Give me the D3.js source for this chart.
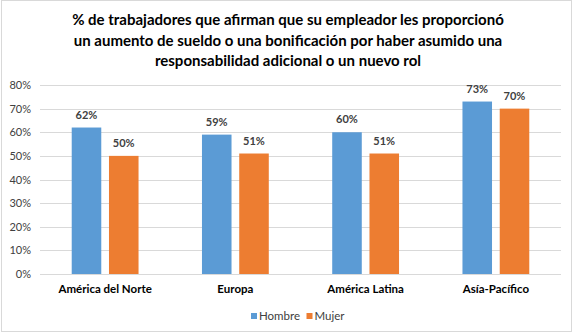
<!DOCTYPE html>
<html>
<head>
<meta charset="utf-8">
<script src="https://cdn.jsdelivr.net/npm/d3@7"></script>
<style>
  html, body { margin: 0; padding: 0; background: #fff; }
  svg { display: block; }
  text { font-family: Lato, "Open Sans", sans-serif; }
</style>
</head>
<body>
<svg id="chart" width="576" height="336"></svg>
<script>
const regions = ["América del Norte", "Europa", "América Latina", "Asía-Pacífico"];
const series = ["Hombre", "Mujer"];
const hombre = [62, 59, 60, 73];
const mujer = [50, 51, 51, 70];
const yTicks = [0, 10, 20, 30, 40, 50, 60, 70, 80];
const titleLines = [
  "% de trabajadores que afirman que su empleador les proporcionó",
  "un aumento de sueldo o una bonificación por haber asumido una",
  "responsabilidad adicional o un nuevo rol"
];

const COLORS = { Hombre: "#5b9bd5", Mujer: "#ed7d31" };
const W = 576, H = 336;
const plot = { left: 40, right: 561, top: 85, bottom: 274 };

const svg = d3.select("#chart");

// chart frame
svg.append("rect")
  .attr("x", 1.5).attr("y", 0.5).attr("width", 570).attr("height", 331)
  .attr("fill", "#fff").attr("stroke", "#d9d9d9");

svg.append("g").selectAll("text")
  .data(titleLines)
  .join("text")
  .attr("x", 288)
  .attr("y", (d, i) => 25 + i * 20.7)
  .attr("text-anchor", "middle")
  .attr("font-size", 15)
  .attr("font-weight", 700)
  .attr("fill", "#000")
  .text(d => d);

const y = d3.scaleLinear().domain([0, 80]).range([plot.bottom, plot.top]);
const x0 = d3.scaleBand().domain(regions).range([plot.left, plot.right]);
const x1 = d3.scaleBand().domain(series)
  .range([0, x0.bandwidth()])
  .paddingInner(0.207).paddingOuter(0.851);

// grid
svg.append("g").selectAll("line")
  .data(yTicks)
  .join("line")
  .attr("x1", plot.left).attr("x2", plot.right)
  .attr("y1", d => Math.round(y(d)) + 0.5).attr("y2", d => Math.round(y(d)) + 0.5)
  .attr("stroke", "#d9d9d9").attr("stroke-width", 1);

svg.append("g").selectAll("text")
  .data(yTicks)
  .join("text")
  .attr("x", 31)
  .attr("y", d => y(d) + 4)
  .attr("text-anchor", "end")
  .attr("font-size", 11)
  .attr("fill", "#404040")
  .text(d => d + "%");

const rows = regions.map((r, i) => ({ region: r, values: [
  { key: "Hombre", value: hombre[i] },
  { key: "Mujer", value: mujer[i] }
]}));

const groups = svg.append("g").selectAll("g")
  .data(rows)
  .join("g")
  .attr("transform", d => `translate(${x0(d.region)},0)`);

groups.selectAll("rect")
  .data(d => d.values)
  .join("rect")
  .attr("x", d => x1(d.key))
  .attr("y", d => y(d.value))
  .attr("width", x1.bandwidth())
  .attr("height", d => y(0) - y(d.value))
  .attr("fill", d => COLORS[d.key]);

groups.selectAll("text")
  .data(d => d.values)
  .join("text")
  .attr("x", d => x1(d.key) + x1.bandwidth() / 2)
  .attr("y", d => y(d.value) - 9)
  .attr("text-anchor", "middle")
  .attr("font-size", 11)
  .attr("font-weight", 700)
  .attr("fill", "#404040")
  .text(d => d.value + "%");

// category labels
svg.append("g").selectAll("text")
  .data(regions)
  .join("text")
  .attr("x", d => x0(d) + x0.bandwidth() / 2)
  .attr("y", 292.5)
  .attr("text-anchor", "middle")
  .attr("font-size", 11.5)
  .attr("font-weight", 700)
  .attr("fill", "#000")
  .text(d => d);

// legend
const legend = svg.append("g").attr("transform", "translate(251,320)");
const legendX = [0, 55.5];
series.forEach((s, i) => {
  legend.append("rect")
    .attr("x", legendX[i]).attr("y", -7)
    .attr("width", 6).attr("height", 6)
    .attr("fill", COLORS[s]);
  legend.append("text")
    .attr("x", legendX[i] + 8).attr("y", 0)
    .attr("font-size", 11.5)
    .attr("fill", "#404040")
    .text(s);
});
</script>
</body>
</html>
